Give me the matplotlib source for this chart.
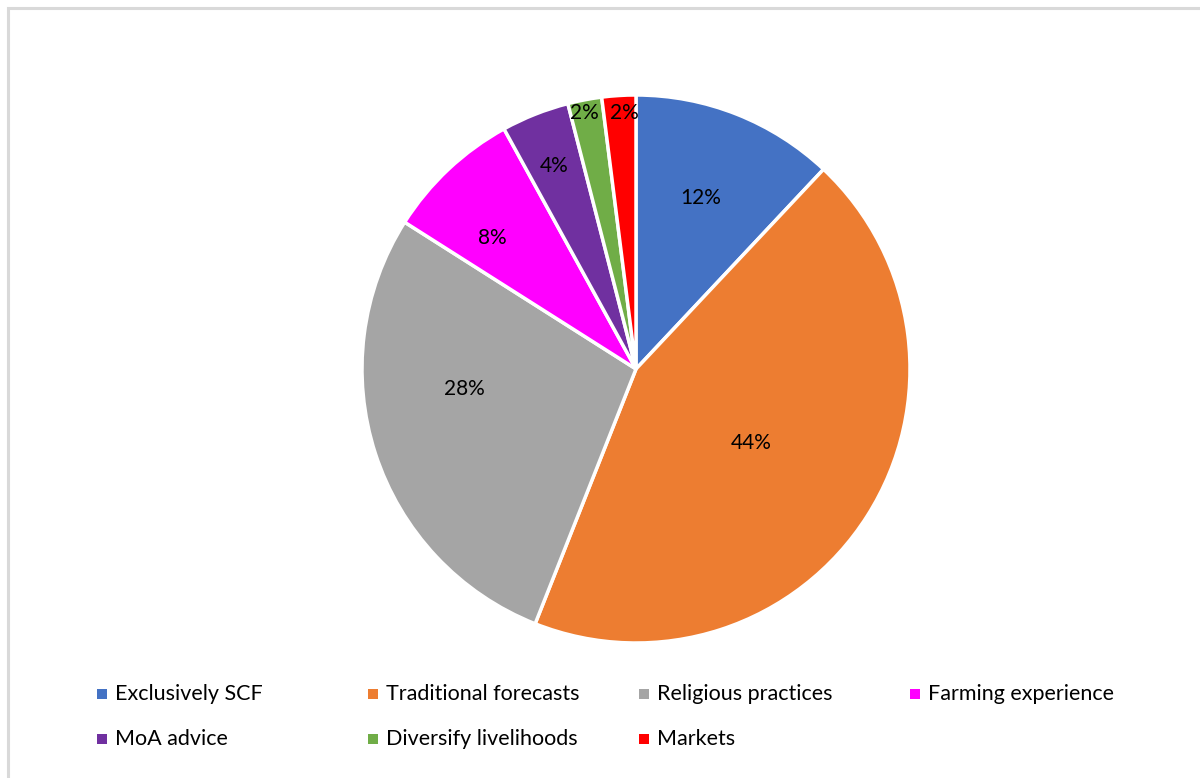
import numpy as np
import matplotlib.pyplot as plt
from matplotlib.patches import Rectangle

plt.rcParams['font.family'] = ['Lato', 'DejaVu Sans']

labels = ['Exclusively SCF', 'Traditional forecasts', 'Religious practices',
          'Farming experience', 'MoA advice', 'Diversify livelihoods', 'Markets']
shares = [12, 44, 28, 8, 4, 2, 2]
colors = ['#4472C4', '#ED7D31', '#A5A5A5', '#FF00FF', '#7030A0', '#70AD47', '#FF0000']

# percent label placement: fraction of radius and angle nudge (deg) from wedge middle
label_r = [0.667, 0.50, 0.63, 0.71, 0.80, 0.953, 0.935]
label_nudge = [1.0, -0.4, -11.4, 4.5, 0.3, 0.5, -0.9]

W, H = 1200, 778
fig = plt.figure(figsize=(12, 7.78), dpi=100)

# chart area border (only top and left edges fall inside the image)
fig.patches.append(Rectangle((8 / W, -1.0), 1.5, 1.0 + (H - 8) / H, transform=fig.transFigure,
                             fill=False, edgecolor='#D9D9D9', linewidth=2.2))

cx, cy, r = 636, H - 369, 274
ax = fig.add_axes([(cx - r) / W, (cy - r) / H, 2 * r / W, 2 * r / H])
wedges, _ = ax.pie(shares, colors=colors, startangle=90, counterclock=False,
                   radius=1, wedgeprops=dict(edgecolor='white', linewidth=2.5))
ax.set_xlim(-1.0, 1.0)
ax.set_ylim(-1.0, 1.0)
ax.set_aspect('equal')
ax.axis('off')

for w, v, lr, dn in zip(wedges, shares, label_r, label_nudge):
    t = np.deg2rad((w.theta1 + w.theta2) / 2 + dn)
    ax.text(lr * np.cos(t), lr * np.sin(t), f'{v}%', ha='center', va='center',
            fontsize=15, color='black')

# legend, 4 columns x 2 rows
col_x = [97, 368, 639, 910]
row_y = [694, 739]
for i, (lab, c) in enumerate(zip(labels, colors)):
    x = col_x[i % 4]
    y = row_y[i // 4]
    fig.patches.append(Rectangle((x / W, (H - y - 5) / H), 10 / W, 10 / H,
                                 transform=fig.transFigure, facecolor=c, edgecolor='none'))
    fig.text((x + 18) / W, (H - y) / H, lab, ha='left', va='center',
             fontsize=15.5, color='black')

fig.savefig('out.png', dpi=100)
